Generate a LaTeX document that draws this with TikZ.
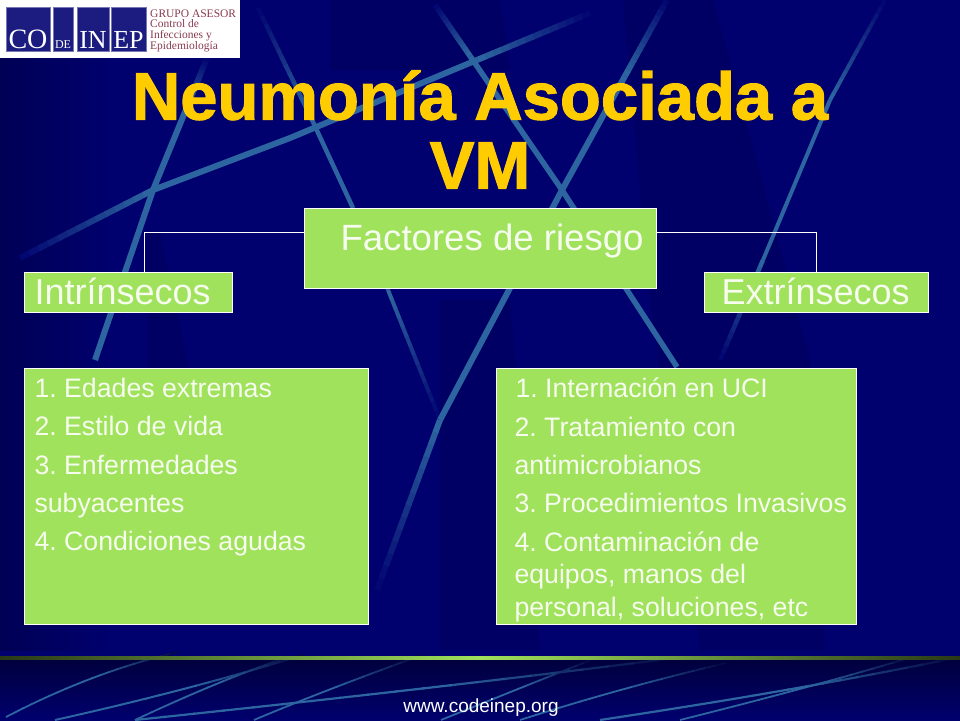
\documentclass[tikz,border=0pt]{standalone}
\usepackage{fontspec}
\setmainfont{Liberation Sans}
\newfontfamily\logofont{Liberation Serif}
\newfontfamily\titulofont[FakeBold=1.6]{Liberation Sans Bold}
\usetikzlibrary{calc}
\definecolor{fondo}{HTML}{00006E}
\definecolor{fondoosc}{HTML}{000064}
\definecolor{banda}{HTML}{00003C}
\definecolor{raya}{HTML}{2C659F}
\definecolor{caja}{HTML}{A0E25C}
\definecolor{titulo}{HTML}{FFCC00}
\definecolor{logoazul}{HTML}{1C1C80}
\definecolor{logorojo}{HTML}{8A3A50}
\definecolor{textocaja}{HTML}{F6FCEE}
\newcommand{\raya}[4][fondo]{%
	\foreach \i in {1,...,14}{
		\pgfmathsetmacro{\ta}{(\i-1)/14}
		\pgfmathsetmacro{\tb}{min(1,\i/14+0.006)}
		\pgfmathsetmacro{\pc}{\i*100/14}
		\draw[line width=#4,color=raya!\pc!#1] ($(#2)!\ta!(#3)$)--($(#2)!\tb!(#3)$);
	}%
}
\newcommand{\rayacurva}[4]{%
	\foreach \i in {1,...,20}{
		\pgfmathsetmacro{\ta}{(\i-1)/20}
		\pgfmathsetmacro{\tb}{min(1,\i/20+0.004)}
		\pgfmathsetmacro{\pc}{min(100,\i*10)}
		\draw[line width=#4,color=raya!\pc!banda] ($($(#1)!\ta!(#2)$)!\ta!($(#2)!\ta!(#3)$)$)--($($(#1)!\tb!(#2)$)!\tb!($(#2)!\tb!(#3)$)$);
	}%
}
\tikzset{
	cuadro/.style={draw=white,line width=1pt,fill=caja,text=textocaja,inner sep=0pt,anchor=north west},
	enlace/.style={draw=white,line width=0.8pt},
	logotexto/.style={text=logorojo,anchor=base west,inner sep=0pt,font=\logofont\fontsize{11.5}{12}\selectfont},
	logocaja/.style={fill=logoazul,draw=logoazul!60,line width=0.5pt,inner sep=0pt,anchor=north west,text=white,minimum height=44pt},
}
\begin{document}
\begin{tikzpicture}[x=1pt,y=-1pt]
	\useasboundingbox (0,0) rectangle (960,720);
	\fill[fondo] (0,0) rectangle (960,720);
	\shade[left color=fondoosc!85!black,right color=fondo] (0,0) rectangle (110,650);
	\fill[fondoosc] (330,0)--(500,0)--(510,70)--(330,70)--cycle;
	\fill[fondoosc] (623,0)--(713,0)--(810,360)--(825,650)--(700,650)--(650,300)--cycle;
	\fill[fondoosc] (147,233)--(160,233)--(187,360)--(190,620)--(150,620)--cycle;
	\fill[fondoosc] (440,300)--(510,300)--(540,650)--(440,650)--cycle;
	% rayas del fondo
	\raya{590,13}{477,60}{6pt}
	\draw[line width=6pt,raya] (477,60)--(290,138)--(153,190);
	\raya{20,258}{153,190}{6pt}
	\raya{207,58}{185,112}{6pt}
	\draw[line width=6pt,raya] (185,112)--(153,190)--(95,360);
	\raya{258,8}{313,122}{4.5pt}
	\draw[line width=4.5pt,raya] (313,122)--(353,208);
	\raya{440,420}{388,290}{4pt}
	\draw[line width=4pt,raya!80!fondo] (388,290)--(353,208);
	\raya{435,5}{470,56}{5.5pt}
	\draw[line width=5.5pt,raya] (470,56)--(562,190)--(677,367);
	\raya{667,0}{625,76}{6pt}
	\draw[line width=6pt,raya] (625,76)--(562,190)--(440,420);
	\raya{377,590}{440,420}{6pt}
	\raya{885,0}{830,100}{4pt}
	\draw[line width=4pt,raya] (830,100)--(763,260);
	\raya{720,360}{763,260}{4.5pt}
	% banda inferior
	\shade[top color=banda,bottom color=fondo] (0,658) rectangle (960,720);
	\rayacurva{178,652}{92,672}{6,717}{1.8pt}
	\rayacurva{303,655}{190,690}{55,720}{2pt}
	\rayacurva{422,655}{320,692}{254,720}{1.8pt}
	\rayacurva{288,657}{220,680}{135,720}{1.8pt}
	\rayacurva{683,657}{440,688}{135,720}{2.2pt}
	\rayacurva{591,660}{520,688}{441,720}{1.8pt}
	\rayacurva{726,663}{620,688}{520,720}{1.8pt}
	\rayacurva{955,658}{800,690}{600,720}{2.2pt}
	\rayacurva{912,657}{820,685}{680,720}{1.8pt}
	\shade[left color=black!75!caja,right color=caja] (0,656.5) rectangle (480,659);
	\shade[left color=caja,right color=black!75!caja] (480,656.5) rectangle (960,659);
	% logo
	\fill[white] (0,0) rectangle (240,58);
	\node[logocaja,minimum width=44pt] (logoco) at (6,7) {};
	\node[logocaja,minimum width=20pt] (logode) at (53,7) {};
	\node[logocaja,minimum width=32pt] (logoin) at (77,7) {};
	\node[logocaja,minimum width=35pt] (logoep) at (111,7) {};
	\node[text=white,anchor=base,inner sep=0pt,font=\logofont\fontsize{28}{28}\selectfont] (tco) at (28,48) {CO};
	\node[text=white,anchor=base,inner sep=0pt,font=\logofont\fontsize{12}{12}\selectfont] (tde) at (63,48) {DE};
	\node[text=white,anchor=base,inner sep=0pt,font=\logofont\fontsize{26}{26}\selectfont] (tin) at (93,48) {IN};
	\node[text=white,anchor=base,inner sep=0pt,font=\logofont\fontsize{26}{26}\selectfont] (tep) at (128.5,48) {EP};
	\node[logotexto] (grupo) at (150,17) {GRUPO ASESOR};
	\node[logotexto] (control) at (150,27.5) {Control de};
	\node[logotexto] (infecciones) at (150,38) {Infecciones y};
	\node[logotexto] (epidemio) at (150,49) {Epidemiología};
	% titulo
	\node[text=titulo,align=center,inner sep=0pt,font=\titulofont\fontsize{67}{69}\selectfont] (titulo) at (480,129.5) {Neumonía Asociada a\\VM};
	% cuadros
	\node[cuadro] (factores) at (304,208) {\parbox[t][80pt][t]{352pt}{\fontsize{36.6}{40}\selectfont\vspace*{15pt}\hspace*{36pt}Factores de riesgo}};
	\node[cuadro] (intrinsecos) at (24,272) {\parbox[t][40pt][t]{208pt}{\fontsize{36}{40}\selectfont\vspace*{5pt}\hspace*{10pt}Intrínsecos}};
	\node[cuadro] (extrinsecos) at (704,272) {\parbox[t][40pt][t]{224pt}{\fontsize{36}{40}\selectfont\vspace*{5pt}\hspace*{17pt}Extrínsecos}};
	\node[cuadro] (listaint) at (24,368) {\parbox[t][256pt][t]{344pt}{\frenchspacing\fontsize{26.7}{38.4}\selectfont\leftskip=10pt\vspace*{9.5pt}%
		1. Edades extremas\\
		2. Estilo de vida\\
		3. Enfermedades\\
		subyacentes\\
		4. Condiciones agudas}};
	\node[cuadro] (listaext) at (496,368) {\parbox[t][256pt][t]{360pt}{\frenchspacing\fontsize{26.7}{38.4}\selectfont\leftskip=18pt\vspace*{9.5pt}%
		\hspace*{1pt}1. Internación en UCI\\
		2. Tratamiento con\\
		antimicrobianos\\
		3. Procedimientos Invasivos\\
		4. Contaminación de\\[-6pt]
		equipos, manos del\\[-6pt]
		personal, soluciones, etc}};
	\coordinate (bajadaint) at (144,272);
	\draw[enlace] ($(factores.north west)!0.3!(factores.south west)$) -| (bajadaint);
	\draw[enlace] ($(factores.north east)!0.3!(factores.south east)$) -| (extrinsecos.north);
	% pie
	\node[text=white,anchor=base,inner sep=0pt,font=\fontsize{19}{19}\selectfont] (web) at (481,712.5) {www.codeinep.org};
\end{tikzpicture}
\end{document}
